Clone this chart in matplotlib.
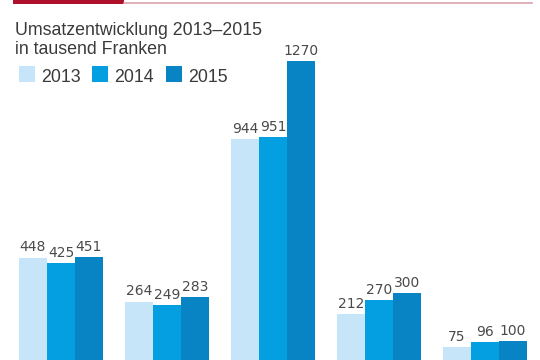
import numpy as np
import matplotlib
matplotlib.use('Agg')
import matplotlib.pyplot as plt
from matplotlib.patches import Rectangle

years = ['2013', '2014', '2015']
v2013 = [448, 264, 944, 212, 75]
v2014 = [425, 249, 951, 270, 96]
v2015 = [451, 283, 1270, 300, 100]

colors = ['#c6e5f8', '#049fe0', '#0883c3']
txtcol = '#3a3a3a'

fig = plt.figure(figsize=(5.4, 3.6), dpi=100)
W, H = 540.0, 360.0

# bar axes fills the figure; baseline sits a few px below the bottom edge
ax = fig.add_axes([0, 0, 1, 1])
k = 0.2394   # px per unit
ax.set_ylim(5 / k, 365 / k)
ax.set_xlim(-61 / 106.0, (W - 61) / 106.0)
ax.axis('off')

x = np.arange(len(v2013))
bw = 28 / 106.0
for i, vals in enumerate([v2013, v2014, v2015]):
   xs = x + (i - 1) * bw
   ax.bar(xs, vals, width=bw, color=colors[i], linewidth=0)
   for xx, v in zip(xs, vals):
      ax.text(xx, v + 14, str(v), ha='center', va='bottom', fontsize=10,
              color='#4a4a4a', family='DejaVu Sans')

# top red rules
fig.add_artist(plt.Line2D([124 / W, 532 / W], [1 - 3 / H, 1 - 3 / H],
                          color='#d9a3ab', lw=1.2))
fig.add_artist(Rectangle((13 / W, 1 - 4 / H), 111 / W, 4 / H,
                         color='#ae0f2b', lw=0))

# title
fig.text(15 / W, 1 - 35 / H, 'Umsatzentwicklung 2013\u20132015', fontsize=12.8,
         color=txtcol, family='Liberation Sans', va='baseline')
fig.text(15 / W, 1 - 54 / H, 'in tausend Franken', fontsize=12.8,
         color=txtcol, family='Liberation Sans', va='baseline')

# legend
sq_x = [19, 92, 166]
for sx, c, y in zip(sq_x, colors, years):
   fig.add_artist(Rectangle((sx / W, 1 - 82 / H), 16 / W, 16 / H, color=c, lw=0))
   fig.text((sx + 22) / W, 1 - 82 / H, y, fontsize=12.8, color=txtcol,
            family='Liberation Sans', va='baseline')

plt.savefig('out.png', dpi=100)
